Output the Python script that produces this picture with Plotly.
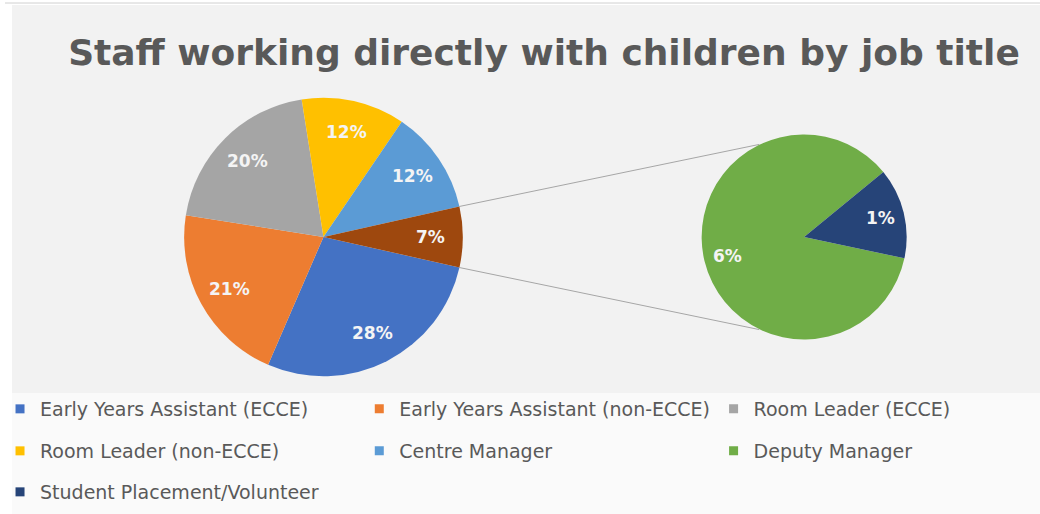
import math
import plotly.graph_objects as go

W, H = 1040, 514

# ---------------- data ----------------
title_text = "Staff working directly with children by job title"
main_labels = ["Early Years Assistant (ECCE)", "Early Years Assistant (non-ECCE)",
               "Room Leader (ECCE)", "Room Leader (non-ECCE)", "Centre Manager", "Other"]
main_values = [28, 21, 20, 12, 12, 7]
main_colors = ["#4472C4", "#ED7D31", "#A5A5A5", "#FFC000", "#5B9BD5", "#9E480E"]

sub_labels = ["Deputy Manager", "Student Placement/Volunteer"]
sub_values = [6, 1]
sub_colors = ["#70AD47", "#264478"]

# legend layout: (label, column, row)
legend_items = [
    ("Early Years Assistant (ECCE)", 0, 0),
    ("Early Years Assistant (non-ECCE)", 1, 0),
    ("Room Leader (ECCE)", 2, 0),
    ("Room Leader (non-ECCE)", 0, 1),
    ("Centre Manager", 1, 1),
    ("Deputy Manager", 2, 1),
    ("Student Placement/Volunteer", 0, 2),
]

# ---------------- layout geometry (pixels) ----------------
main_c, main_r = (320, 237), 140
sub_c, sub_r = (803, 237), 103
main_rot = 102.6
sub_rot = 102
label_frac = 0.77
col_x = [-5, 356, 712]
row_y = [409, 451, 492]
FONT = "DejaVu Sans"
GREY = "#595959"


def dom(c, r):
    return dict(x=[(c[0] - r) / W, (c[0] + r) / W],
                y=[1 - (c[1] + r) / H, 1 - (c[1] - r) / H])


def pt(c, r, ang):
    t = math.radians(ang)
    return c[0] + r * math.sin(t), c[1] - r * math.cos(t)


fig = go.Figure()
annotations = []

for labels, values, colors, c, r, rot in (
        (main_labels, main_values, main_colors, main_c, main_r, main_rot),
        (sub_labels, sub_values, sub_colors, sub_c, sub_r, sub_rot)):
    fig.add_trace(go.Pie(
        labels=labels, values=values, sort=False, direction="clockwise",
        rotation=rot, domain=dom(c, r),
        marker=dict(colors=colors, line=dict(width=0)),
        textinfo="none", showlegend=False, hoverinfo="label+value",
    ))
    tot = sum(values)
    acc = rot
    for v in values:
        span = 360 * v / tot
        mid = acc + span / 2
        acc += span
        px, py = pt(c, r * label_frac, mid)
        annotations.append(dict(
            x=px / W, y=1 - py / H, xref="paper", yref="paper", showarrow=False,
            text=f"{v}%", xanchor="center", yanchor="middle",
            font=dict(family=FONT, size=17, color="#F4F4F4", weight="bold")))

# legend entries (dummy scatter traces), one legend per entry for exact placement
color_of = dict(zip(main_labels + sub_labels, main_colors + sub_colors))
legend_layouts = {}
for i, (lab, col, row) in enumerate(legend_items):
    lid = "legend" if i == 0 else f"legend{i + 1}"
    fig.add_trace(go.Scatter(
        x=[None], y=[None], mode="markers", name=lab, legend=lid,
        marker=dict(symbol="square", size=9, color=color_of[lab]),
    ))
    legend_layouts[lid] = dict(
        x=col_x[col] / W, y=1 - row_y[row] / H, xanchor="left", yanchor="middle",
        orientation="h", bgcolor="rgba(0,0,0,0)", itemclick=False,
        font=dict(family=FONT, size=19, color=GREY))

# connector lines: from the "Other" slice edges to the secondary pie
total = sum(main_values)
other_span = 360 * main_values[-1] / total
a_end = main_rot + 360
a_start = a_end - other_span
p1 = pt(main_c, main_r, a_start)
p2 = pt(main_c, main_r, a_end)
q1 = pt(sub_c, sub_r, -26)
q2 = pt(sub_c, sub_r, 180 + 26)

shapes = [
    dict(type="rect", xref="paper", yref="paper", x0=7 / W, x1=1, y0=1 - 393 / H, y1=1 - 5 / H,
         fillcolor="#F2F2F2", line=dict(width=0), layer="below"),
    dict(type="rect", xref="paper", yref="paper", x0=7 / W, x1=1, y0=0, y1=1 - 393 / H,
         fillcolor="#FAFAFA", line=dict(width=0), layer="below"),
    dict(type="line", xref="paper", yref="paper", x0=0, x1=1, y0=1 - 3 / H, y1=1 - 3 / H,
         line=dict(color="#D0D0D0", width=1), layer="below"),
]
for a, b in ((p1, q1), (p2, q2)):
    shapes.append(dict(type="line", xref="paper", yref="paper",
                       x0=a[0] / W, y0=1 - a[1] / H, x1=b[0] / W, y1=1 - b[1] / H,
                       line=dict(color="#A6A6A6", width=1), layer="below"))

fig.update_layout(
    width=W, height=H,
    margin=dict(l=0, r=0, t=0, b=0),
    paper_bgcolor="#FFFFFF", plot_bgcolor="rgba(0,0,0,0)",
    title=dict(text=title_text, x=544 / W, xanchor="center", y=1 - 52 / H, yanchor="middle",
               font=dict(family=FONT, size=36, color=GREY, weight="bold")),
    xaxis=dict(visible=False), yaxis=dict(visible=False),
    shapes=shapes, annotations=annotations,
    **legend_layouts,
)

fig.write_html("out.html")
